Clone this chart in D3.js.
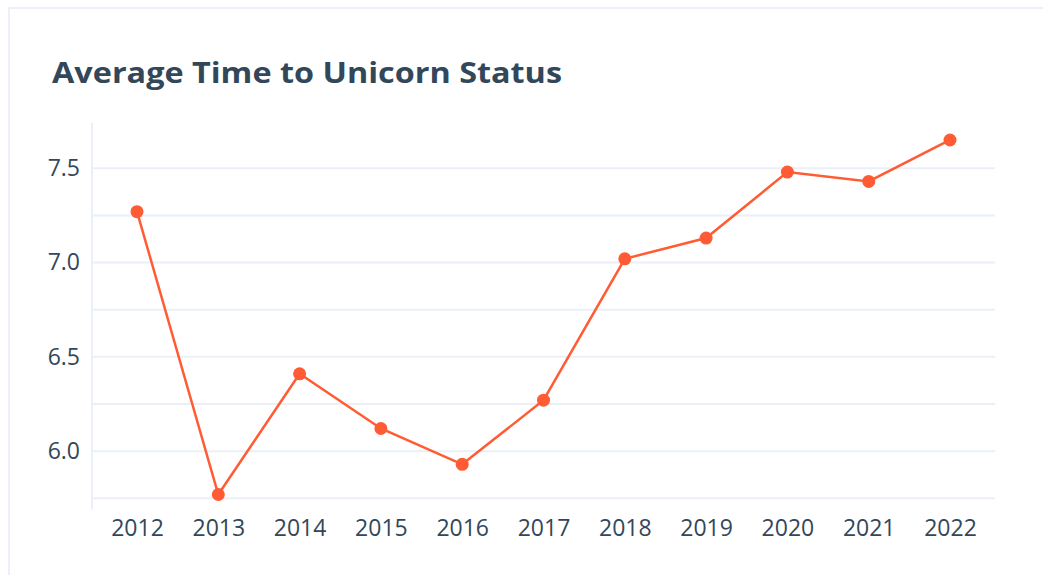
<!DOCTYPE html>
<html>
<head>
<meta charset="utf-8">
<script src="https://cdn.jsdelivr.net/npm/d3@7"></script>
<style>
  body { margin: 0; background: #fff; }
  svg { display: block; font-family: "Open Sans", Lato, sans-serif; }
</style>
</head>
<body>
<script>
// chart data
const years = ["2012", "2013", "2014", "2015", "2016", "2017", "2018", "2019", "2020", "2021", "2022"];
const avgYears = [7.27, 5.77, 6.41, 6.12, 5.93, 6.27, 7.02, 7.13, 7.48, 7.43, 7.65];
const gridTicks = [5.75, 6.0, 6.25, 6.5, 6.75, 7.0, 7.25, 7.5];
const labelTicks = [6.0, 6.5, 7.0, 7.5];
const title = "Average Time to Unicorn Status";

const width = 1043, height = 575;
const orange = "#ff5c35", grid = "#eaf0f6", ink = "#33475b";

const svg = d3.select("body").append("svg")
  .attr("width", width)
  .attr("height", height);

// card outline (runs past the right / bottom edge)
svg.append("rect")
  .attr("x", 9).attr("y", 8)
  .attr("width", 1200).attr("height", 800)
  .attr("fill", "none")
  .attr("stroke", grid)
  .attr("stroke-width", 2);

svg.append("text")
  .attr("x", 52).attr("y", 83)
  .attr("font-size", 28.5)
  .attr("font-weight", 700)
  .attr("fill", ink)
  .attr("textLength", 510)
  .attr("lengthAdjust", "spacingAndGlyphs")
  .text(title);

// scales
const x = d3.scalePoint().domain(years).range([137, 950]);
const y = d3.scaleLinear().domain([5.69, 7.74]).range([509.6, 123]);

const plotLeft = 93, plotRight = 995;

// grid lines
svg.append("g").selectAll("line")
  .data(gridTicks)
  .join("line")
  .attr("x1", plotLeft).attr("x2", plotRight)
  .attr("y1", d => y(d)).attr("y2", d => y(d))
  .attr("stroke", grid)
  .attr("stroke-width", 2);

// y axis line
svg.append("line")
  .attr("x1", 92).attr("x2", 92)
  .attr("y1", y(y.domain()[1])).attr("y2", y(y.domain()[0]))
  .attr("stroke", grid)
  .attr("stroke-width", 2);

// y labels
const yAxis = svg.append("g")
  .attr("transform", "translate(80,0)")
  .call(d3.axisLeft(y).tickValues(labelTicks).tickFormat(d3.format(".1f")).tickSize(0).tickPadding(0));
yAxis.select(".domain").remove();
yAxis.selectAll("text")
  .attr("font-size", 23)
  .attr("font-family", "\"Open Sans\", Lato, sans-serif")
  .attr("fill", ink);

// x labels
const xAxis = svg.append("g")
  .attr("transform", "translate(0,520)")
  .call(d3.axisBottom(x).tickSize(0).tickPadding(0));
xAxis.select(".domain").remove();
xAxis.selectAll("text")
  .attr("font-size", 23)
  .attr("font-family", "\"Open Sans\", Lato, sans-serif")
  .attr("fill", ink);

// line + points
const pts = years.map((yr, i) => ({ yr, v: avgYears[i] }));

svg.append("path")
  .datum(pts)
  .attr("fill", "none")
  .attr("stroke", orange)
  .attr("stroke-width", 2.5)
  .attr("d", d3.line().x(d => x(d.yr)).y(d => y(d.v)));

svg.append("g").selectAll("circle")
  .data(pts)
  .join("circle")
  .attr("cx", d => x(d.yr))
  .attr("cy", d => y(d.v))
  .attr("r", 6.5)
  .attr("fill", orange);
</script>
</body>
</html>
